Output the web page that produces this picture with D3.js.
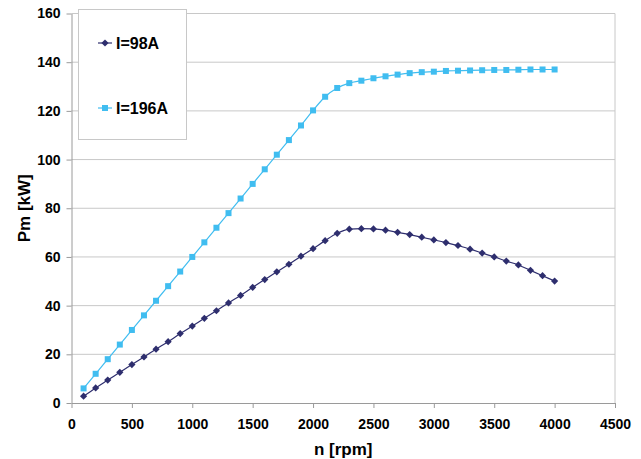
<!DOCTYPE html>
<html>
<head>
<meta charset="utf-8">
<script src="https://cdn.jsdelivr.net/npm/d3@7"></script>
<style>
  body { margin: 0; background: #fff; }
  svg text { font-family: Arial, "Liberation Sans", sans-serif; font-weight: bold; }
</style>
</head>
<body>
<div id="chart"></div>
<script>
// speed steps, rpm
const speeds = d3.range(100, 4001, 100);
// mechanical power, kW
const power98 = [
  2.8, 6.2, 9.4, 12.6, 15.8, 18.9, 22.1, 25.2, 28.5, 31.6,
  34.8, 37.9, 41.1, 44.2, 47.5, 50.7, 53.9, 57.0, 60.3, 63.4,
  66.7, 69.7, 71.4, 71.6, 71.5, 71.0, 70.1, 69.2, 68.1, 67.0,
  65.9, 64.7, 63.2, 61.6, 60.0, 58.3, 56.7, 54.5, 52.3, 50.1
];
const power196 = [
  6, 12, 18, 24, 30, 36, 42, 48, 54, 60,
  66, 72, 78, 84, 90, 96, 102, 108, 114, 120.2,
  125.8, 129.4, 131.4, 132.4, 133.4, 134.2, 134.9, 135.5, 135.9, 136.1,
  136.4, 136.5, 136.6, 136.7, 136.8, 136.8, 136.9, 137, 137, 137
];
const xTicks = d3.range(0, 4501, 500);
const yTicks = d3.range(0, 161, 20);

const series = [
  { name: 'I=98A', values: power98, color: '#2e2e6e', shape: 'diamond' },
  { name: 'I=196A', values: power196, color: '#40bdf0', shape: 'square' }
];

const W = 641, H = 459;
const m = { left: 71.5, right: 26, top: 13.5, bottom: 56 };

const svg = d3.select('#chart').append('svg')
  .attr('width', W).attr('height', H);

const x = d3.scaleLinear().domain([0, 4500]).range([m.left, W - m.right]);
const y = d3.scaleLinear().domain([0, 160]).range([H - m.bottom, m.top]);

// horizontal grid
svg.append('g')
  .selectAll('line')
  .data(yTicks.filter(t => t > 0))
  .enter().append('line')
  .attr('x1', x(0)).attr('x2', x(4500))
  .attr('y1', d => y(d)).attr('y2', d => y(d))
  .attr('stroke', '#c8c8c8');

// right border of plot area
svg.append('line')
  .attr('x1', x(4500)).attr('x2', x(4500))
  .attr('y1', y(0)).attr('y2', y(160))
  .attr('stroke', '#c8c8c8');

// axes
const fmt = d3.format('d');
const yAxis = svg.append('g')
  .attr('transform', `translate(${x(0)},0)`)
  .call(d3.axisLeft(y).tickValues(yTicks).tickFormat(fmt).tickSize(5).tickPadding(6).tickSizeOuter(0));
const xAxis = svg.append('g')
  .attr('transform', `translate(0,${y(0)})`)
  .call(d3.axisBottom(x).tickValues(xTicks).tickFormat(fmt).tickSize(5).tickPadding(11).tickSizeOuter(0));

[xAxis, yAxis].forEach(a => {
  a.select('.domain').attr('stroke', '#9a9a9a');
  a.selectAll('.tick line').attr('stroke', '#9a9a9a');
  a.selectAll('text').attr('font-size', 14).attr('fill', '#000')
    .style('font-family', 'Arial, "Liberation Sans", sans-serif').style('font-weight', 'bold');
});

// lines and markers
const line = d3.line()
  .x((d, i) => x(speeds[i]))
  .y(d => y(d))
  .curve(d3.curveMonotoneX);

function marker(sel, s) {
  if (s.shape === 'square') {
    sel.append('rect')
      .attr('x', -3).attr('y', -3).attr('width', 6).attr('height', 6)
      .attr('fill', s.color);
  } else {
    sel.append('path')
      .attr('d', 'M0,-3.6L3.6,0L0,3.6L-3.6,0Z')
      .attr('fill', s.color);
  }
}

series.forEach(s => {
  svg.append('path')
    .datum(s.values)
    .attr('d', line)
    .attr('fill', 'none')
    .attr('stroke', s.color)
    .attr('stroke-width', 1.2);

  svg.append('g')
    .selectAll('g')
    .data(s.values)
    .enter().append('g')
    .attr('transform', (d, i) => `translate(${x(speeds[i])},${y(d)})`)
    .each(function () { marker(d3.select(this), s); });
});

// legend
const legend = svg.append('g');
legend.append('rect')
  .attr('x', 78.5).attr('y', 9.5).attr('width', 108).attr('height', 130)
  .attr('fill', '#fff').attr('stroke', '#c8c8c8');

series.forEach((s, i) => {
  const g = legend.append('g').attr('transform', `translate(98,${43 + i * 65})`);
  g.append('line').attr('x1', 0).attr('x2', 14).attr('stroke', s.color).attr('stroke-width', 1.2);
  const mk = g.append('g').attr('transform', 'translate(7,0)');
  marker(mk, s);
  g.append('text')
    .attr('x', 18).attr('dy', '0.36em')
    .attr('font-size', 16)
    .text(s.name);
});

// axis titles
svg.append('text')
  .attr('x', (x(0) + x(4500)) / 2).attr('y', 455)
  .attr('text-anchor', 'middle')
  .attr('font-size', 17)
  .text('n [rpm]');

svg.append('text')
  .attr('transform', `translate(30,${(y(0) + y(160)) / 2}) rotate(-90)`)
  .attr('text-anchor', 'middle')
  .attr('font-size', 17)
  .text('Pm [kW]');
</script>
</body>
</html>
